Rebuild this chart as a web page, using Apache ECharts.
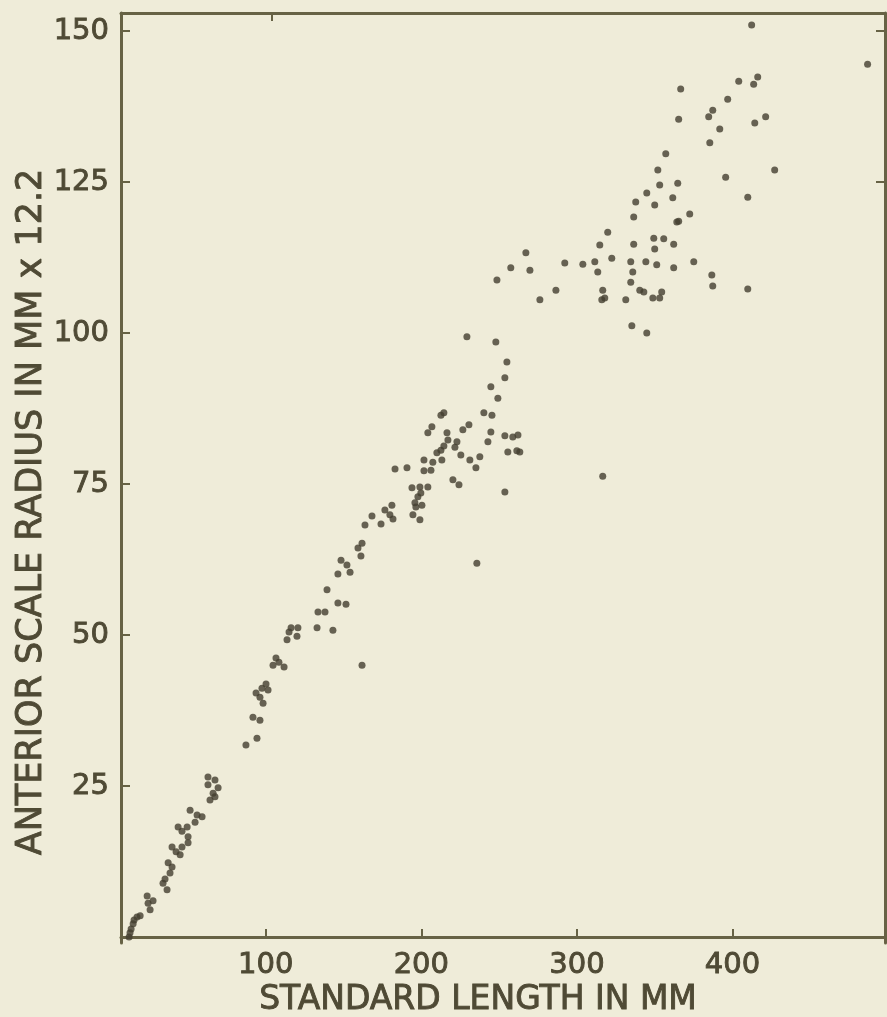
<!DOCTYPE html>
<html>
<head>
<meta charset="utf-8">
<script src="https://cdn.jsdelivr.net/npm/echarts@6/dist/echarts.min.js"></script>
<style>
html,body{margin:0;padding:0;background:#efecd9;}
#chart{width:887px;height:1017px;}
</style>
</head>
<body>
<div id="chart"></div>
<script>
const xTickValues = [100, 200, 300, 400];
const yTickValues = [25, 50, 75, 100, 125, 150];
const xTitle = 'STANDARD LENGTH IN MM';
const yTitle = 'ANTERIOR SCALE RADIUS IN MM x 12.2';

// standard length (mm)
const lengthMM = [
  12.2,12.8,13.5,14.8,15.4,17.3,19.3,23.8,24.4,25.7,27.6,34.0,35.3,36.6,38.5,39.8,37.3,39.8,42.4,45.0,
  46.2,50.1,50.1,43.7,46.2,49.5,51.4,55.9,59.1,54.6,62.9,67.4,69.4,66.2,64.2,67.4,62.9,87.3,94.4,91.8,
  96.3,98.3,93.8,97.6,100.2,96.3,101.5,104.7,108.5,111.8,106.6,113.7,115.0,116.3,120.1,120.7,133.6,133.0,138.1,143.2,
  146.4,151.6,139.4,146.4,154.2,148.4,152.2,161.2,159.3,161.9,161.9,163.8,168.3,174.1,176.6,181.1,179.8,199.1,194.6,195.9,
  200.4,183.1,190.8,197.8,194.0,199.1,201.7,206.2,201.7,210.0,212.6,204.2,206.8,214.5,220.3,224.2,213.2,214.5,217.1,216.5,
  221.6,222.9,225.4,226.7,231.2,235.1,242.8,244.7,240.2,245.4,244.7,253.7,255.0,247.9,229.3,253.7,258.8,262.1,255.6,261.4,
  253.7,235.7,316.6,248.6,257.5,267.2,276.2,286.5,292.2,311.5,313.4,316.6,317.9,322.4,334.6,335.9,344.3,340.4,351.3,354.5,
  362.2,348.8,375.1,386.7,387.3,409.8,335.3,344.9,314.7,319.8,336.5,362.2,350.0,349.4,355.8,336.5,364.2,365.4,372.5,337.8,
  350.0,361.6,409.8,344.9,353.2,364.8,352.0,395.6,427.1,357.1,385.4,391.8,365.4,414.3,421.3,384.7,387.3,396.9,366.7,413.6,
  416.2,404.0,412.3,486.8,
  204.2,199.7,181.8,196.5,207.4,212.6,230.6,237.6,263.3,249.2,334.6,343.0,353.2,331.4,303.8,316.0,269.8
];
// anterior scale radius (mm x 12.2)
const scaleRadius = [
  0.0,0.7,1.3,2.2,2.8,3.3,3.5,6.8,5.6,4.5,6.0,8.9,9.6,7.8,10.6,11.6,12.3,14.9,14.1,13.6,
  14.9,15.6,16.6,18.2,17.5,18.2,21.0,20.2,19.9,19.0,26.5,26.0,24.7,23.8,22.7,23.2,25.2,31.8,32.9,36.4,
  35.9,38.7,40.4,41.2,41.9,39.7,40.9,45.0,45.5,44.7,46.2,49.2,50.5,51.2,49.8,51.2,53.8,51.2,53.8,50.8,
  55.3,55.1,57.5,60.1,60.4,62.4,61.6,63.1,64.4,65.2,45.0,68.2,69.7,68.4,70.7,71.5,69.9,69.1,69.9,71.9,
  71.5,77.5,77.7,72.9,74.4,74.5,79.0,77.3,77.2,80.2,80.6,83.5,84.5,86.8,75.7,74.9,79.0,81.3,82.3,83.5,
  81.1,82.0,79.8,84.0,79.0,77.7,82.0,83.6,86.8,86.4,91.1,92.6,95.2,98.5,99.4,83.0,82.8,83.1,80.3,80.5,
  73.7,61.9,76.3,108.8,110.8,113.3,105.5,107.1,111.6,111.8,110.1,107.1,105.8,112.4,111.8,110.1,111.8,107.1,111.3,106.8,
  110.8,105.8,111.8,109.6,107.8,107.3,101.2,100.0,114.6,116.7,114.7,114.7,113.9,115.7,115.6,119.2,118.4,118.5,119.7,121.7,
  121.2,122.4,122.5,123.2,124.5,124.8,127.0,125.8,127.0,129.7,131.5,133.8,135.4,134.8,135.8,135.8,136.9,138.7,140.4,141.2,
  142.4,141.7,151.0,144.5,
  74.5,73.5,69.2,71.2,78.6,86.4,84.8,79.5,80.3,89.2,108.4,106.8,105.8,105.5,111.4,105.5,110.4
];

const points = lengthMM.map((v, i) => [v, scaleRadius[i]]);

const axisColor = '#676245';
const textColor = '#4f4a35';
const font = "'DejaVu Sans', sans-serif";
const labelStyle = {color: textColor, fontFamily: font, fontSize: 29, textBorderColor: textColor, textBorderWidth: 0.9};

const chart = echarts.init(document.getElementById('chart'), null, {renderer: 'canvas'});
chart.setOption({
  backgroundColor: '#efecd9',
  animation: false,
  grid: {left: 121, right: 2, top: 13, bottom: 74},
  xAxis: [{
    type: 'value', min: 7, max: 498, position: 'bottom',
    axisLine: {show: true, lineStyle: {color: axisColor, width: 3}},
    axisTick: {show: true, inside: true, length: 8, customValues: xTickValues, lineStyle: {color: axisColor, width: 2}},
    axisLabel: Object.assign({show: true, customValues: xTickValues, margin: 8}, labelStyle),
    splitLine: {show: false}
  }, {
    type: 'value', min: 7, max: 498, position: 'top',
    axisLine: {show: true, onZero: false, lineStyle: {color: axisColor, width: 3}},
    axisTick: {show: true, inside: true, length: 8, customValues: [104], lineStyle: {color: axisColor, width: 2}},
    axisLabel: {show: false},
    splitLine: {show: false}
  }],
  yAxis: [{
    type: 'value', min: -1, max: 153, position: 'left',
    axisLine: {show: true, lineStyle: {color: axisColor, width: 3}},
    axisTick: {show: true, inside: true, length: 9, customValues: yTickValues, lineStyle: {color: axisColor, width: 2}},
    axisLabel: Object.assign({show: true, customValues: yTickValues, margin: 12}, labelStyle),
    splitLine: {show: false}
  }, {
    type: 'value', min: -1, max: 153, position: 'right',
    axisLine: {show: true, onZero: false, lineStyle: {color: axisColor, width: 3}},
    axisTick: {show: true, inside: true, length: 9, customValues: [125, 150], lineStyle: {color: axisColor, width: 2}},
    axisLabel: {show: false},
    splitLine: {show: false}
  }],
  graphic: [{
    type: 'text', x: 478, y: 1000,
    style: {text: xTitle, align: 'center', verticalAlign: 'middle', fill: textColor, stroke: textColor, lineWidth: 0.9, font: "33px 'DejaVu Sans', sans-serif"}
  }, {
    type: 'text', x: 32, y: 512, rotation: Math.PI / 2,
    style: {text: yTitle, align: 'center', verticalAlign: 'middle', fill: textColor, stroke: textColor, lineWidth: 0.9, font: "35px 'DejaVu Sans', sans-serif"}
  }],
  series: [{
    type: 'scatter', xAxisIndex: 0, yAxisIndex: 0,
    data: points, symbol: 'circle', symbolSize: 7,
    itemStyle: {color: '#433f30'}
  }]
});
</script>
</body>
</html>
